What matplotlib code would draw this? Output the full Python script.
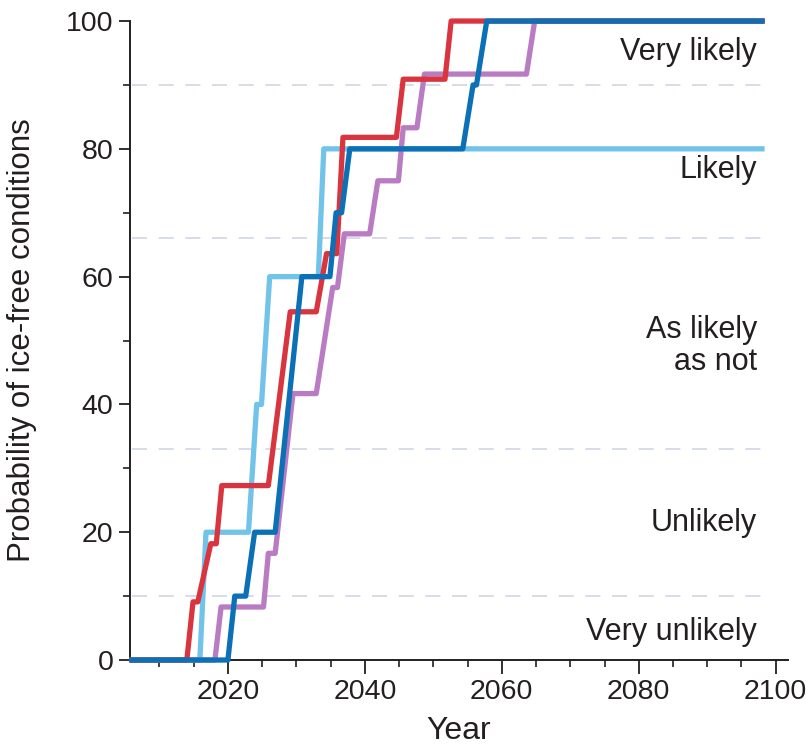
import matplotlib
matplotlib.use("Agg")
import matplotlib.pyplot as plt
from matplotlib.ticker import MultipleLocator

plt.rcParams['font.family'] = ['Liberation Sans', 'DejaVu Sans']

# step curves (year, probability %)
red_years = [2006, 2014.0, 2014.9, 2015.6, 2017.5, 2018.3, 2019.1, 2025.9, 2029.1,
             2032.9, 2034.4, 2035.9, 2036.8, 2044.6, 2045.6, 2051.7, 2052.6, 2098]
red_vals = [0, 0, 9.1, 9.1, 18.2, 18.2, 27.3, 27.3, 54.5,
            54.5, 63.6, 63.6, 81.8, 81.8, 90.9, 90.9, 100, 100]

light_years = [2006, 2015.9, 2016.8, 2023.0, 2024.2, 2024.9, 2026.1, 2033.2, 2034.0, 2098]
light_vals = [0, 0, 20, 20, 40, 40, 60, 60, 80, 80]

dark_years = [2006, 2020.0, 2021.0, 2022.6, 2023.9, 2026.9, 2030.8, 2034.9, 2035.8,
              2036.6, 2037.8, 2054.3, 2055.8, 2056.3, 2057.8, 2098]
dark_vals = [0, 0, 10, 10, 20, 20, 60, 60, 70,
             70, 80, 80, 90, 90, 100, 100]

purple_years = [2006, 2018.1, 2019.0, 2025.2, 2025.9, 2026.9, 2029.5, 2032.9, 2035.3, 2036.0,
                2037.0, 2040.7, 2041.9, 2044.9, 2045.6, 2047.6, 2048.7, 2063.6, 2064.8, 2098]
purple_vals = [0, 0, 8.3, 8.3, 16.7, 16.7, 41.7, 41.7, 58.3, 58.3,
               66.7, 66.7, 75, 75, 83.3, 83.3, 91.7, 91.7, 100, 100]

# likelihood thresholds and their labels
thresholds = [10, 33, 66, 90]
band_labels = ['Very likely', 'Likely', 'As likely\nas not', 'Unlikely', 'Very unlikely']
band_label_y = [95.1, 76.7, 49.1, 21.4, 4.4]

fig = plt.figure(figsize=(8.06, 7.49), dpi=100)
ax = fig.add_axes([0.1613, 0.1188, 0.8164, 0.8531])

for t in thresholds:
    ax.plot([2006, 2098], [t, t], color='#cfd6e4', lw=1.2, ls=(0, (9, 7)), zorder=1)

lw = 3.8
ax.plot(light_years, light_vals, color='#72c3ea', lw=lw, clip_on=False, zorder=2)
ax.plot(purple_years, purple_vals, color='#b97bc2', lw=lw, clip_on=False, zorder=3)
ax.plot(red_years, red_vals, color='#d9353f', lw=lw, clip_on=False, zorder=4)
ax.plot(dark_years, dark_vals, color='#0b70b6', lw=lw, clip_on=False, zorder=5)

for lab, y in zip(band_labels, band_label_y):
    ax.text(2097.3, y, lab, ha='right', va='center', fontsize=22,
            color='#231f20', linespacing=1.1)

ax.set_xlim(2005.7, 2101.8)
ax.set_ylim(0, 100)
ax.xaxis.set_major_locator(MultipleLocator(20))
ax.xaxis.set_minor_locator(MultipleLocator(5))
ax.yaxis.set_major_locator(MultipleLocator(20))
ax.yaxis.set_minor_locator(MultipleLocator(10))

for s in ['top', 'right']:
    ax.spines[s].set_visible(False)
for s in ['left', 'bottom']:
    ax.spines[s].set_linewidth(1.4)
    ax.spines[s].set_color('#231f20')

ax.tick_params(axis='both', which='major', length=8, width=1.3, labelsize=20.5,
               colors='#231f20', pad=4)
ax.tick_params(axis='both', which='minor', length=5, width=1.2, colors='#231f20')
ax.tick_params(axis='x', which='major', length=10)

ax.set_xlabel('Year', fontsize=23, color='#231f20')
ax.set_ylabel('Probability of ice-free conditions', fontsize=22.5, color='#231f20')
ax.xaxis.set_label_coords(0.5, -0.088)
ax.yaxis.set_label_coords(-0.142, 0.5)

fig.savefig('out.png', dpi=100)
